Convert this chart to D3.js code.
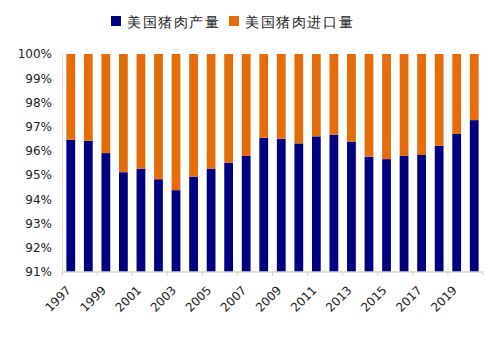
<!DOCTYPE html>
<html>
<head>
<meta charset="utf-8">
<script src="https://cdn.jsdelivr.net/npm/d3@7"></script>
<style>
  body { margin: 0; background: #fff; }
  text { font-family: "DejaVu Sans", sans-serif; }
</style>
</head>
<body>
<div id="chart"></div>
<script>
// years and US pork shares (percent of total supply)
var years = ["1997","1998","1999","2000","2001","2002","2003","2004","2005","2006","2007","2008",
             "2009","2010","2011","2012","2013","2014","2015","2016","2017","2018","2019","2020"];
var production = [96.46, 96.42, 95.91, 95.12, 95.27, 94.83, 94.38, 94.94, 95.27, 95.51, 95.79, 96.54,
                  96.50, 96.31, 96.60, 96.67, 96.37, 95.76, 95.66, 95.80, 95.83, 96.21, 96.70, 97.27];
var imports = production.map(function(p) { return +(100 - p).toFixed(2); });
var seriesNames = ["美国猪肉产量", "美国猪肉进口量"];
var yTicks = [91, 92, 93, 94, 95, 96, 97, 98, 99, 100];

var width = 500, height = 341;
var margin = {top: 54, right: 17, bottom: 69, left: 62};
var widthp = width - margin.left - margin.right;
var heightp = height - margin.top - margin.bottom;
var colors = ["#000080", "#e46c0a"];

var svg = d3.select("#chart")
            .append("svg")
            .attr("width", width)
            .attr("height", height);

var g = svg.append("g")
           .attr("transform", "translate(" + margin.left + "," + margin.top + ")");

var xScale = d3.scaleBand()
               .domain(years)
               .range([0, widthp])
               .paddingInner(0.5)
               .paddingOuter(0.25);
var yScale = d3.scaleLinear()
               .domain([91, 100])
               .range([heightp, 0]);

// stacked bars: production at bottom, imports on top
var rows = years.map(function(y, i) { return {year: y, p: production[i], m: imports[i]}; });
var stack = d3.stack().keys(["p", "m"]);
var layers = stack(rows);

g.selectAll("g.layer")
 .data(layers)
 .enter()
 .append("g")
 .attr("class", "layer")
 .attr("fill", function(d, i) { return colors[i]; })
 .selectAll("rect")
 .data(function(d) { return d; })
 .enter()
 .append("rect")
 .attr("x", function(d) { return xScale(d.data.year); })
 .attr("width", xScale.bandwidth())
 .attr("y", function(d) { return yScale(Math.min(d[1], 100)); })
 .attr("height", function(d) {
   var lo = Math.max(d[0], 91);
   return yScale(lo) - yScale(Math.min(d[1], 100));
 });

// y axis
var yAxis = g.append("g")
             .call(d3.axisLeft(yScale)
                     .tickValues(yTicks)
                     .tickSize(0)
                     .tickPadding(10)
                     .tickFormat(function(d) { return d + "%"; }));
yAxis.select(".domain").attr("stroke", "#d9d5c6");
yAxis.selectAll("text").attr("font-size", 12).attr("fill", "#222")
     .attr("font-family", "DejaVu Sans, sans-serif");

// x axis: line plus a tick every two years
var step = xScale.step();
var xAxisG = g.append("g").attr("transform", "translate(0," + heightp + ")");
xAxisG.append("line")
      .attr("x1", 0).attr("x2", widthp)
      .attr("stroke", "#d9d5c6").attr("stroke-width", 1.5);
xAxisG.selectAll("line.tk")
      .data(d3.range(0, years.length + 1, 2))
      .enter()
      .append("line")
      .attr("class", "tk")
      .attr("x1", function(i) { return i * step; })
      .attr("x2", function(i) { return i * step; })
      .attr("y1", 0).attr("y2", 4)
      .attr("stroke", "#d9d5c6");
xAxisG.selectAll("text")
      .data(years.filter(function(d, i) { return i % 2 === 0; }))
      .enter()
      .append("text")
      .attr("transform", function(d) {
        return "translate(" + (xScale(d) + xScale.bandwidth() / 2 + 1) + ",19) rotate(-45)";
      })
      .attr("text-anchor", "end")
      .attr("font-size", 12)
      .attr("fill", "#222")
      .text(function(d) { return d; });

// legend
var legend = svg.append("g").attr("transform", "translate(111,16)");
var legendX = [0, 118];
seriesNames.forEach(function(name, i) {
  legend.append("rect")
        .attr("x", legendX[i]).attr("y", 0)
        .attr("width", 10).attr("height", 10)
        .attr("fill", colors[i]);
  legend.append("text")
        .attr("x", legendX[i] + 16).attr("y", 11)
        .attr("font-size", 14)
        .attr("letter-spacing", 1.6)
        .attr("font-family", "Noto Sans CJK SC, sans-serif")
        .attr("fill", "#222")
        .text(name);
});
</script>
</body>
</html>
